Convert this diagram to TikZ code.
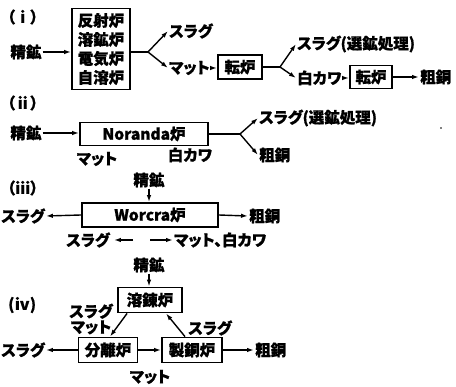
\documentclass[tikz,border=0pt]{standalone}
\usepackage{fontspec}
\usetikzlibrary{arrows.meta,calc}
\newfontfamily\jp[RawFeature={+palt}, FakeBold=0.9]{Noto Sans CJK JP}
\tikzset{
  lbl/.style={font=\jp\bfseries\fontsize{15.5}{19}\selectfont, inner sep=1pt},
  furnace/.style={draw, line width=1.8pt, font=\jp\bfseries\fontsize{15.5}{19}\selectfont, inner sep=2pt, align=center},
  arr/.style={line width=1.4pt, -{Latex[length=7pt,width=4.5pt]}},
  ln/.style={line width=1.4pt},
}
\begin{document}
\begin{tikzpicture}[x=1pt,y=-1pt]
\useasboundingbox (0,0) rectangle (456,387);
% ---------------- (i)
\node[lbl, anchor=west] (h1) at (6,17) {（ⅰ）};
\node[furnace, minimum width=58, minimum height=81] (b1) at (101,49) {反射炉\\溶鉱炉\\電気炉\\自溶炉};
\node[lbl] (o1) at (26,52) {精鉱};
\draw[arr] (o1.east) -- (o1.east -| b1.west);
\coordinate (j1) at (148,52);
\node[lbl, anchor=west] (s1) at (168,31) {スラグ};
\node[lbl, anchor=west] (m1) at (168,68) {マット};
\draw[ln] (j1 -| b1.east) -- (j1);
\draw[arr] (j1) -- (s1.west);
\draw[arr] (j1) -- (m1.west);
\node[furnace, minimum width=44, minimum height=24] (t1) at (240,67) {転炉};
\draw[arr] (m1.east) -- (m1.east -| t1.west);
\coordinate (j2) at (280,67);
\draw[ln] (t1.east) -- (j2);
\node[lbl, anchor=west] (s2) at (296,44) {スラグ(選鉱処理)};
\node[lbl, anchor=west] (w1) at (296,78) {白カワ};
\draw[arr] (j2) -- (s2.west);
\draw[arr] (j2) -- (w1.west);
\node[furnace, minimum width=42, minimum height=23] (t2) at (371,77) {転炉};
\draw[arr] (w1.east) -- (w1.east -| t2.west);
\node[lbl, anchor=west] (c1) at (419,77) {粗銅};
\draw[arr] (t2.east) -- (c1.west);
% ---------------- (ii)
\node[lbl, anchor=west] (h2) at (6,103) {（ⅱ）};
\node[lbl] (o2) at (26,133) {精鉱};
\node[furnace, minimum width=128, minimum height=23] (nor) at (144,134) {Noranda炉};
\draw[arr] (o2.east) -- (o2.east -| nor.west);
\coordinate (j3) at (240,134);
\draw[ln] (nor.east) -- (j3);
\node[lbl, anchor=west] (s3) at (258,118) {スラグ(選鉱処理)};
\node[lbl, anchor=west] (c2) at (258,155) {粗銅};
\draw[arr] (j3) -- (s3.west);
\draw[arr] (j3) -- (c2.west);
\node[lbl] (m2) at (97,159) {マット};
\node[lbl] (w2) at (190,155) {白カワ};
\fill (441,128) circle (0.8);
% ---------------- (iii)
\node[lbl, anchor=west] (h3) at (6,188) {（ⅲ）};
\node[lbl] (o3) at (149,180) {精鉱};
\node[furnace, minimum width=136, minimum height=24] (wor) at (150,215) {Worcra炉};
\draw[arr] (o3.south) -- (o3.south |- wor.north);
\node[lbl] (s4) at (23,216) {スラグ};
\draw[arr] (wor.west) -- (s4.east);
\node[lbl, anchor=west] (c3) at (248,216) {粗銅};
\draw[arr] (wor.east) -- (c3.west);
\node[lbl] (s5) at (88,240) {スラグ};
\coordinate (a1) at (133,240);
\draw[arr] (a1) -- ($(s5.east)+(3,0)$);
\coordinate (a2) at (150,240);
\node[lbl, anchor=west] (m3) at (173,240) {マット、白カワ};
\draw[arr] (a2) -- (m3.west);
% ---------------- (iv)
\node[lbl] (o4) at (149,265) {精鉱};
\node[furnace, minimum width=64, minimum height=25] (r1) at (150,300) {溶錬炉};
\draw[arr] (o4.south) -- (o4.south |- r1.north);
\node[lbl, anchor=west] (h4) at (7,305) {(ⅳ)};
\node[lbl, align=center, font=\jp\bfseries\fontsize{15.5}{15.5}\selectfont] (sm) at (91,319) {スラグ\\マット};
\node[furnace, minimum width=59, minimum height=25] (r2) at (108,350) {分離炉};
\node[furnace, minimum width=60, minimum height=25] (r3) at (192,350) {製銅炉};
\draw[arr] ($(r1.south west)+(10,0)$) -- ($(r2.north)+(2,0)$);
\draw[arr] ($(r3.north)+(-7,0)$) -- ($(r1.south)+(16,0)$);
\node[lbl] (s6) at (210,328) {スラグ};
\draw[arr] (r2.east) -- (r3.west);
\node[lbl] (s7) at (23,350) {スラグ};
\draw[arr] (r2.west) -- (s7.east);
\node[lbl, anchor=west] (c4) at (254,350) {粗銅};
\draw[arr] (r3.east) -- (c4.west);
\node[lbl] (m4) at (150,377) {マット};
\end{tikzpicture}
\end{document}
